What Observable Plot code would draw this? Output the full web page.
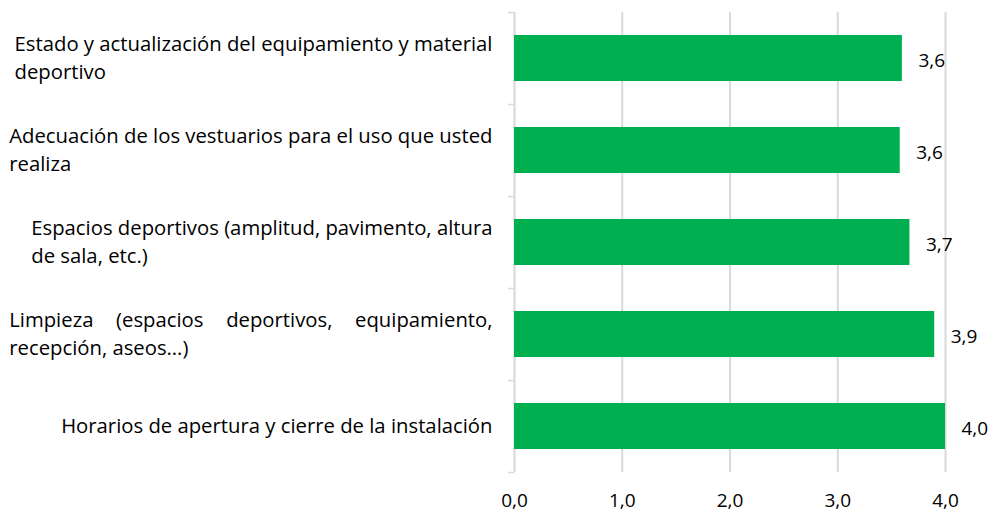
<!DOCTYPE html>
<html>
<head>
<meta charset="utf-8">
<script src="https://cdn.jsdelivr.net/npm/d3@7"></script>
<script src="https://cdn.jsdelivr.net/npm/@observablehq/plot@0.6"></script>
<style>
  html, body { margin: 0; padding: 0; background: #fff; }
</style>
</head>
<body>
<script>
const categories = [
  "Estado y actualización del equipamiento y material deportivo",
  "Adecuación de los vestuarios para el uso que usted realiza",
  "Espacios deportivos (amplitud, pavimento, altura de sala, etc.)",
  "Limpieza (espacios deportivos, equipamiento, recepción, aseos…)",
  "Horarios de apertura y cierre de la instalación"
];
const labelLines = [
  ["Estado y actualización del equipamiento y material", "deportivo"],
  ["Adecuación de los vestuarios para el uso que usted", "realiza"],
  ["Espacios deportivos (amplitud, pavimento, altura", "de sala, etc.)"],
  ["Limpieza (espacios deportivos, equipamiento,", "recepción, aseos…)"],
  ["Horarios de apertura y cierre de la instalación"]
];
const justified = [false, false, false, true, false];
const values = [3.60, 3.58, 3.67, 3.90, 4.00];
const xTicks = [0, 1, 2, 3, 4];

const FONT = "'Open Sans', 'Noto Sans', sans-serif";
const fmt = v => d3.format(".1f")(v).replace(".", ",");
const data = categories.map((c, i) => ({cat: c, value: values[i]}));
const lineOf = new Map(categories.map((c, i) => [c, labelLines[i].join("\n")]));
const justifiedFirstLines = new Set(labelLines.filter((l, i) => justified[i]).map(l => l[0]));

const chart = Plot.plot({
  width: 991,
  height: 515,
  marginLeft: 514,
  marginRight: 46,
  marginTop: 12,
  marginBottom: 43,
  style: {fontFamily: FONT, background: "#fff", color: "#000"},
  x: {domain: [0, 4], label: null},
  y: {domain: categories, paddingInner: 0.5, paddingOuter: 0.25, label: null},
  marks: [
    Plot.gridX(xTicks, {stroke: "#d9d9d9", strokeOpacity: 1, strokeWidth: 2}),
    Plot.ruleX([0], {stroke: "#d9d9d9", strokeWidth: 1.5}),
    Plot.axisY({tickSize: 6, text: null, label: null, dy: -46, stroke: "#d9d9d9", strokeWidth: 1.5, strokeOpacity: 1}),
    Plot.axisY([categories[categories.length - 1]], {tickSize: 6, text: null, label: null, dy: 46, stroke: "#d9d9d9", strokeWidth: 1.5, strokeOpacity: 1}),
    Plot.barX(data, {x: "value", y: "cat", fill: "#00B050"}),
    Plot.text(data, {x: "value", y: "cat", text: d => fmt(d.value), dx: 16, dy: 2, textAnchor: "start", fontSize: 19, fontFamily: FONT, fill: "#000"}),
    Plot.axisY({tickSize: 0, tickPadding: 22, label: null, dy: -2.5, tickFormat: c => lineOf.get(c), fontSize: 20.3, fontFamily: FONT, lineHeight: 1.36, fill: "#000"}),
    Plot.axisX(xTicks, {tickSize: 0, tickPadding: 21, label: null, tickFormat: fmt, fontSize: 19, fontFamily: FONT, fill: "#000"})
  ]
});
document.body.append(chart);

// left-align multi-line labels inside their right-aligned block; justify where needed
const NS = "http://www.w3.org/2000/svg";
const labelTexts = Array.from(chart.querySelectorAll('g[aria-label="y-axis tick label"] text'));
let globalMax = 0;
labelTexts.forEach(t => {
  t.querySelectorAll("tspan").forEach(s => { globalMax = Math.max(globalMax, s.getComputedTextLength()); });
});
labelTexts.forEach(t => {
  const spans = Array.from(t.querySelectorAll("tspan"));
  if (spans.length < 2) return;
  const just = justifiedFirstLines.has(spans[0].textContent);
  const widths = spans.map(s => s.getComputedTextLength());
  const maxW = just ? globalMax : d3.max(widths);
  spans.forEach((s, k) => {
    const x0 = +(s.getAttribute("x") || 0);
    if (just && k < spans.length - 1) {
      const words = s.textContent.split(" ");
      let idx = 0;
      const ws = words.map(w => { const l = s.getSubStringLength(idx, w.length); idx += w.length + 1; return l; });
      const gap = (maxW - d3.sum(ws)) / (words.length - 1);
      let pos = x0 - maxW;
      const ends = ws.map(w => { const e = pos + w; pos = e + gap; return e; });
      s.textContent = words[0];
      s.setAttribute("x", ends[0]);
      let after = s;
      for (let j = 1; j < words.length; j++) {
        const n = document.createElementNS(NS, "tspan");
        n.setAttribute("x", ends[j]);
        n.textContent = words[j];
        after.after(n);
        after = n;
      }
    } else {
      s.setAttribute("x", x0 + widths[k] - maxW);
    }
  });
});
</script>
</body>
</html>
